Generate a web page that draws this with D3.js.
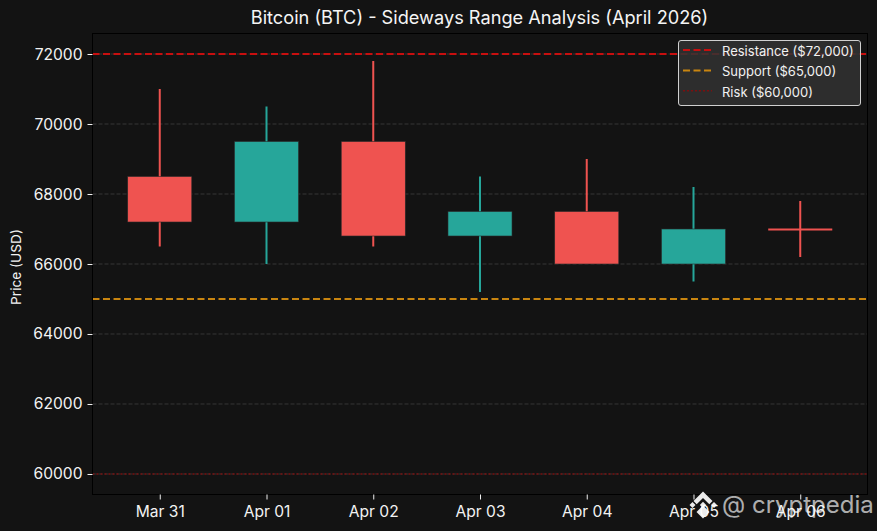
<!DOCTYPE html>
<html><head><meta charset="utf-8">
<script src="https://cdn.jsdelivr.net/npm/d3@7/dist/d3.min.js"></script>
<style>html,body{margin:0;padding:0;background:#131313}svg{display:block}text{font-family:"Inter","Noto Sans",sans-serif}</style>
</head><body><svg id="c" width="877" height="531"></svg>
<script>
const categories=["Mar 31","Apr 01","Apr 02","Apr 03","Apr 04","Apr 05","Apr 06"];
const opens=[67200,67200,69500,66800,67500,66000,67000];
const closes=[68500,69500,66800,67500,66000,67000,67000];
const highs=[71000,70500,71800,68500,69000,68200,67800];
const lows=[66500,66000,66500,65200,66000,65500,66200];
const directions=["down","up","down","up","down","up","down"];
const yTicks=[60000,62000,64000,66000,68000,70000,72000];
const levels=[{name:"Resistance ($72,000)",v:72000,c:"#c80f0f",d:"7,3.5",w:2},{name:"Support ($65,000)",v:65000,c:"#c98510",d:"7,3.5",w:2},{name:"Risk ($60,000)",v:60000,c:"#7a1010",d:"2,2",w:1.5}];
const RED="#ef5350",TEAL="#26a69a";
const m={l:92.5,r:867.5,t:33.5,b:494.5};
const svg=d3.select("#c");
const x=d3.scaleLinear().domain([-0.63,6.63]).range([m.l,m.r]);
const y=d3.scaleLinear().domain([59414,72586]).range([m.b,m.t]);
svg.append("rect").attr("width",877).attr("height",531).attr("fill","#131313");
svg.append("clipPath").attr("id","p").append("rect").attr("x",m.l).attr("y",m.t).attr("width",m.r-m.l).attr("height",m.b-m.t);
const plot=svg.append("g").attr("clip-path","url(#p)");
plot.selectAll(".g").data(yTicks).join("line").attr("x1",m.l).attr("x2",m.r).attr("y1",d=>y(d)).attr("y2",d=>y(d)).attr("stroke","#363636").attr("stroke-width",1).attr("stroke-dasharray","4,2");
plot.selectAll(".l").data(levels).join("line").attr("x1",m.l).attr("x2",m.r).attr("y1",d=>y(d.v)).attr("y2",d=>y(d.v)).attr("stroke",d=>d.c).attr("stroke-width",d=>d.w).attr("stroke-dasharray",d=>d.d);
const idx=d3.range(categories.length);
const col=i=>directions[i]==="up"?TEAL:RED;
plot.selectAll(".w").data(idx).join("line").attr("x1",i=>x(i)).attr("x2",i=>x(i)).attr("y1",i=>y(highs[i])).attr("y2",i=>y(lows[i])).attr("stroke",col).attr("stroke-width",2);
const bw=x(0.3)-x(-0.3);
plot.selectAll(".b").data(idx).join("rect").attr("x",i=>x(i-0.3)).attr("width",bw)
 .attr("y",i=>y(Math.max(opens[i],closes[i]))-(opens[i]===closes[i]?0.5:0)).attr("height",i=>Math.max(2,Math.abs(y(opens[i])-y(closes[i]))))
 .attr("fill",col).attr("stroke","#2a2a2a").attr("stroke-width",i=>opens[i]===closes[i]?0:0.6);
svg.append("rect").attr("x",m.l).attr("y",m.t).attr("width",m.r-m.l).attr("height",m.b-m.t).attr("fill","none").attr("stroke","#000").attr("stroke-width",1);
const yA=svg.append("g").attr("transform",`translate(${m.l},0)`).call(d3.axisLeft(y).tickValues(yTicks).tickFormat(d3.format("d")).tickSize(5).tickPadding(5));
yA.select(".domain").remove();yA.selectAll("line").attr("stroke","#f0f0f0");yA.selectAll("text").attr("fill","#f2f2f2").attr("font-size",15.6);
const xA=svg.append("g").attr("transform",`translate(0,${m.b})`).call(d3.axisBottom(x).tickValues(idx).tickFormat(i=>categories[i]).tickSize(5).tickPadding(6));
xA.select(".domain").remove();xA.selectAll("line").attr("stroke","#f0f0f0");xA.selectAll("text").attr("fill","#f2f2f2").attr("font-size",15.6);
svg.append("text").attr("x",479.5).attr("y",24).attr("text-anchor","middle").attr("fill","#f5f5f5").attr("font-size",18.2).text("Bitcoin (BTC) - Sideways Range Analysis (April 2026)");
svg.append("text").attr("transform","translate(21,267) rotate(-90)").attr("text-anchor","middle").attr("fill","#f2f2f2").attr("font-size",13.7).text("Price (USD)");
// legend
const lg=svg.append("g");
lg.append("rect").attr("x",678.5).attr("y",40.5).attr("width",182).attr("height",65).attr("rx",2.5).attr("fill","#333").attr("fill-opacity",.85).attr("stroke","#d0d0d0").attr("stroke-width",1);
levels.forEach((d,i)=>{const yy=50+i*20.4;
 lg.append("line").attr("x1",683).attr("x2",712).attr("y1",yy).attr("y2",yy).attr("stroke",d.c).attr("stroke-width",d.w).attr("stroke-dasharray",d.d);
 lg.append("text").attr("x",722).attr("y",yy+6).attr("fill","#f2f2f2").attr("font-size",13).text(d.name);});
// watermark
const wm=svg.append("g").attr("fill","#fff").attr("fill-opacity",.92);
wm.append("path").attr("d","M703 491.5l9.5 9.5l-3.2 3.2l-6.3 -6.3l-6.3 6.3l-3.2 -3.2z");
[[692.5,505,3],[714,505,3],[703,505,3.2],[703,512,6.5]].forEach(([a,b,r])=>{
 wm.append("path").attr("d",`M${a} ${b-r}L${a+r} ${b}L${a} ${b+r}L${a-r} ${b}z`);
});
wm.append("text").attr("x",722).attr("y",513).attr("font-size",24).attr("font-family","Noto Sans").attr("fill-opacity",.68).text("@ cryptpedia");
</script></body></html>
